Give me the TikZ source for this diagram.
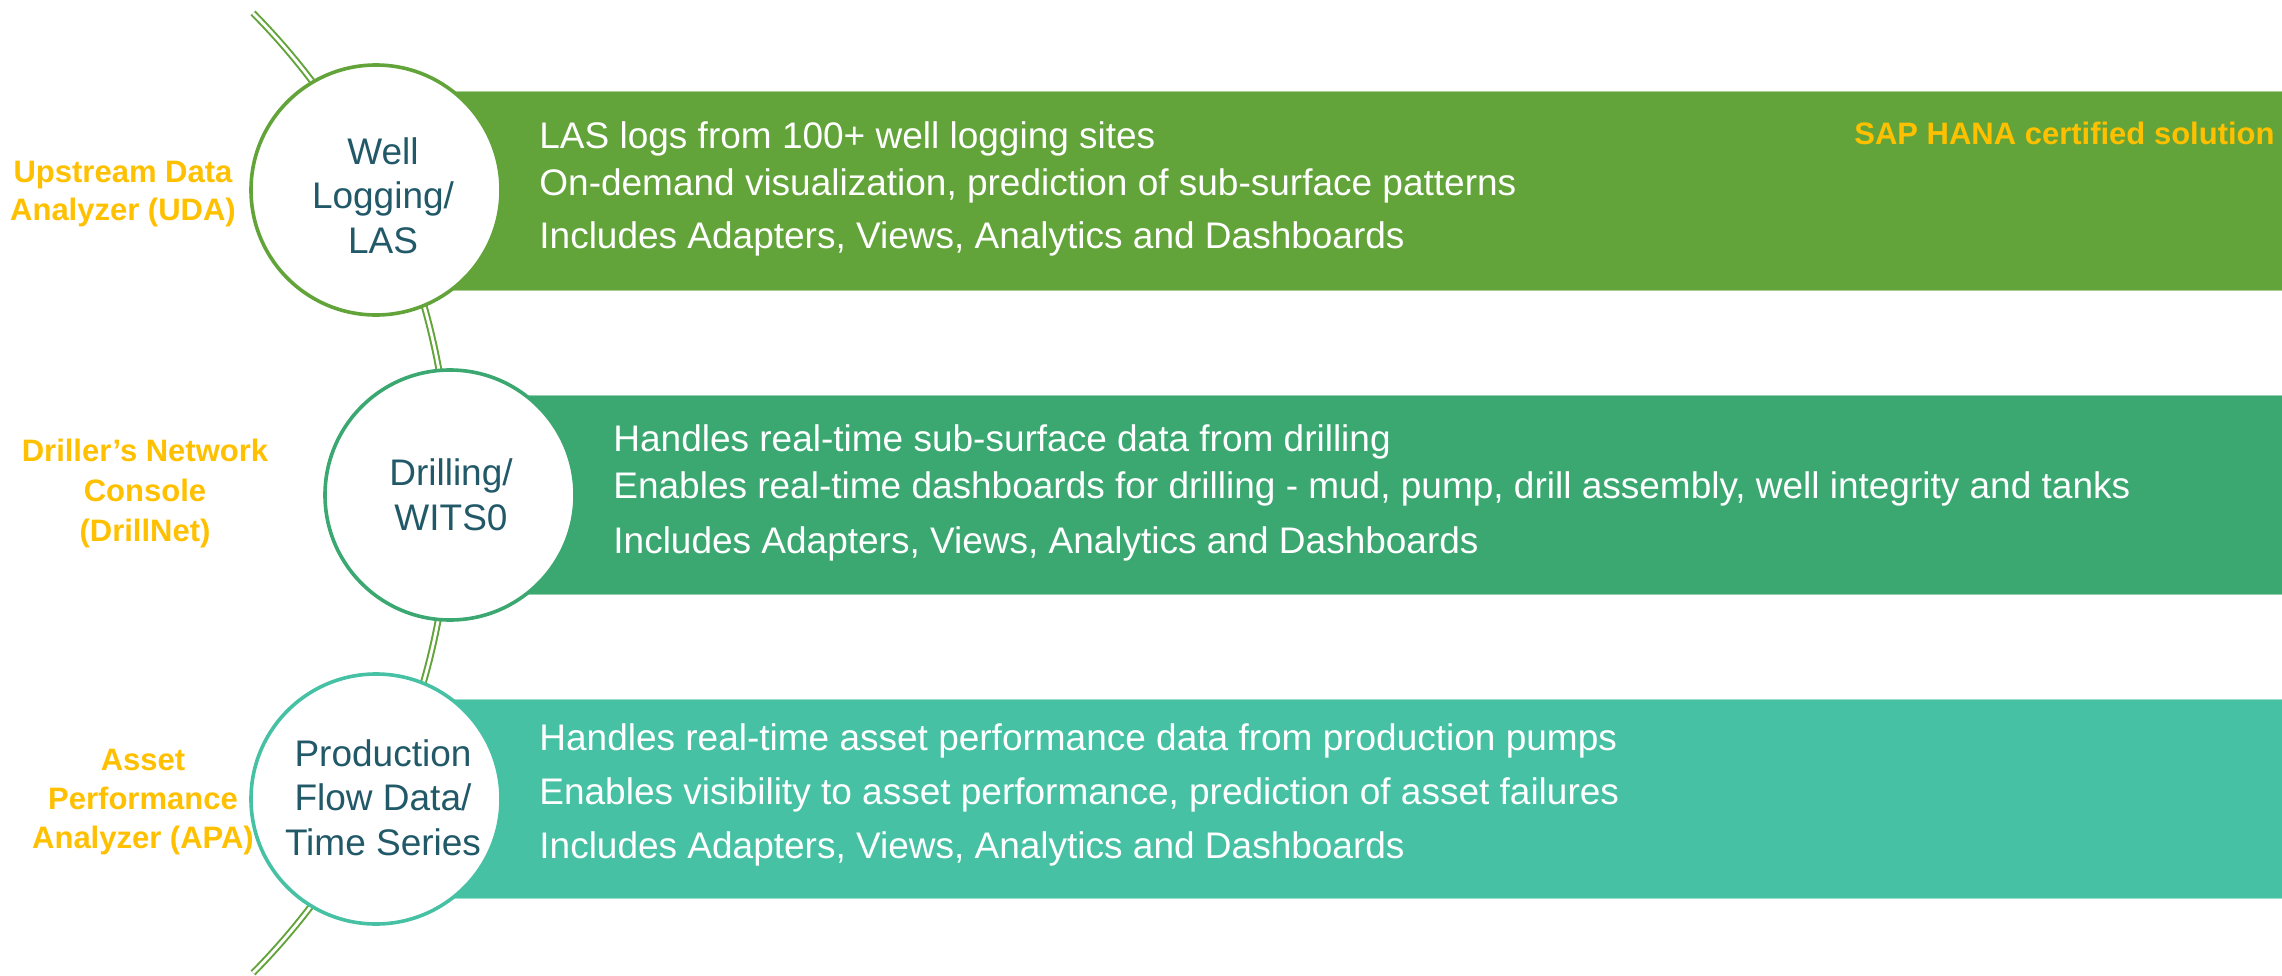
\documentclass[tikz,border=0pt]{standalone}
\usepackage{fontspec}
\setmainfont{Liberation Sans}
\definecolor{barA}{RGB}{98,164,57}
\definecolor{barB}{RGB}{58,168,112}
\definecolor{barC}{RGB}{70,193,164}
\definecolor{lblorange}{RGB}{255,192,0}
\definecolor{darkteal}{RGB}{33,89,104}
\tikzset{
  stemline/.style={draw=barA, double=white, line width=1pt, double distance=1.4pt},
  ring/.style={circle, fill=white, line width=1.8pt, minimum size=125pt, inner sep=0pt},
  circtext/.style={text=darkteal, font=\fontsize{18.5pt}{22pt}\selectfont, anchor=base, inner sep=0pt},
  bartext/.style={text=white, font=\fontsize{18.5pt}{22pt}\selectfont, anchor=base west, inner sep=0pt},
  lbl/.style={text=lblorange, font=\bfseries\fontsize{15.5pt}{19pt}\selectfont, anchor=base, inner sep=0pt},
}
\begin{document}
\begin{tikzpicture}[x=0.5pt,y=-0.5pt]
\fill[white] (0,0) rectangle (2282,975);
\useasboundingbox (0,0) rectangle (2282,975);
% stem
\coordinate (stemtop) at (253,13);
\draw[stemline] (stemtop) arc[start angle=-44.65, end angle=44.65, radius=683];
% bars
\fill[barA] (376,91) rectangle (2282,290);
\draw[barA!55!white, line width=0.5pt] (376,91) -- (2282,91) (376,290) -- (2282,290);
\fill[barB] (450,395) rectangle (2282,594);
\draw[barB!55!white, line width=0.5pt] (450,395) -- (2282,395) (450,594) -- (2282,594);
\fill[barC] (376,699) rectangle (2282,898);
\draw[barC!55!white, line width=0.5pt] (376,699) -- (2282,699) (376,898) -- (2282,898);
% circles
\node[ring, draw=barA] (c1) at (376,190) {};
\node[ring, draw=barB] (c2) at (450,495) {};
\node[ring, draw=barC] (c3) at (376,799) {};
% circle texts
\node[circtext] (c1a) at (383,164) {Well};
\node[circtext] (c1b) at (383,208) {Logging/};
\node[circtext] (c1c) at (383,253) {LAS};
\node[circtext] (c2a) at (451,485) {Drilling/};
\node[circtext] (c2b) at (451,530) {WITS0};
\node[circtext] (c3a) at (383,766) {Production};
\node[circtext] (c3b) at (383,810) {Flow Data/};
\node[circtext] (c3c) at (383,855) {Time Series};
% bar texts
\node[bartext] (t1a) at (539,148) {LAS logs from 100+ well logging sites};
\node[bartext] (t1b) at (539,195) {On-demand visualization, prediction of sub-surface patterns};
\node[bartext] (t1c) at (539,248) {Includes Adapters, Views, Analytics and Dashboards};
\node[bartext] (t2a) at (613,451) {Handles real-time sub-surface data from drilling};
\node[bartext] (t2b) at (613,498) {Enables real-time dashboards for drilling - mud, pump, drill assembly, well integrity and tanks};
\node[bartext] (t2c) at (613,553) {Includes Adapters, Views, Analytics and Dashboards};
\node[bartext] (t3a) at (539,750) {Handles real-time asset performance data from production pumps};
\node[bartext] (t3b) at (539,804) {Enables visibility to asset performance, prediction of asset failures};
\node[bartext] (t3c) at (539,858) {Includes Adapters, Views, Analytics and Dashboards};
% labels
\node[lbl, anchor=base east] (sap) at (2275,144) {SAP HANA certified solution};
\node[lbl] (l1a) at (123,182) {Upstream Data};
\node[lbl] (l1b) at (123,220) {Analyzer (UDA)};
\node[lbl] (l2a) at (145,461) {Driller’s Network};
\node[lbl] (l2b) at (145,501) {Console};
\node[lbl] (l2c) at (145,541) {(DrillNet)};
\node[lbl] (l3a) at (143,770) {Asset};
\node[lbl] (l3b) at (143,809) {Performance};
\node[lbl] (l3c) at (143,848) {Analyzer (APA)};
\end{tikzpicture}
\end{document}
